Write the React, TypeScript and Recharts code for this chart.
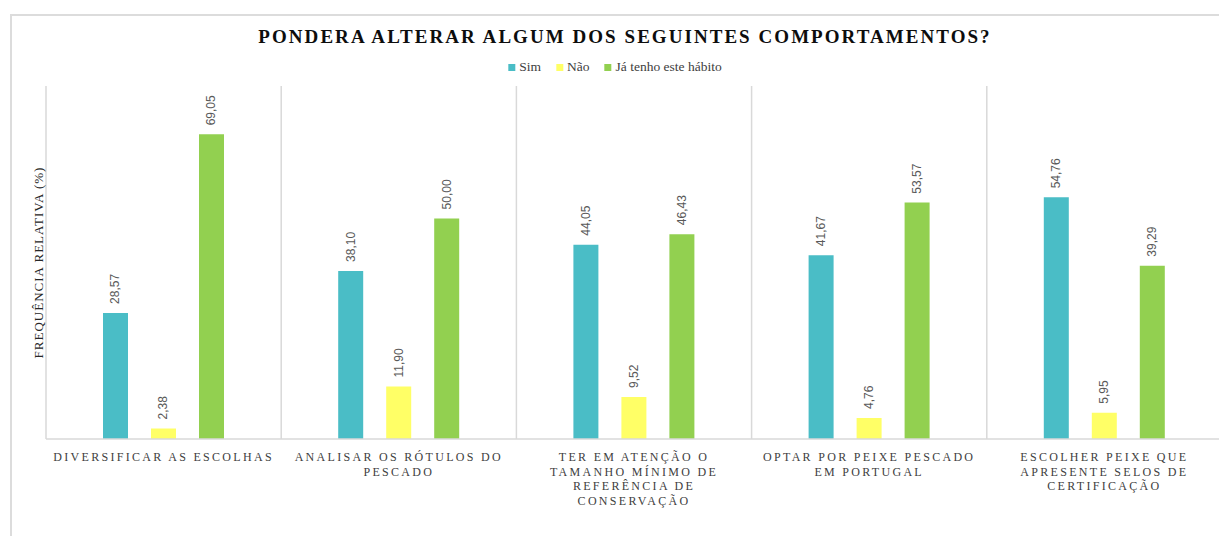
import React from "react";
import { BarChart, Bar, XAxis, YAxis, CartesianGrid, LabelList } from "recharts";

const categories = [
  "DIVERSIFICAR AS ESCOLHAS",
  "ANALISAR OS RÓTULOS DO PESCADO",
  "TER EM ATENÇÃO O TAMANHO MÍNIMO DE REFERÊNCIA DE CONSERVAÇÃO",
  "OPTAR POR PEIXE PESCADO EM PORTUGAL",
  "ESCOLHER PEIXE QUE APRESENTE SELOS DE CERTIFICAÇÃO",
];

const tickLines = [
  ["DIVERSIFICAR AS ESCOLHAS"],
  ["ANALISAR OS RÓTULOS DO", "PESCADO"],
  ["TER EM ATENÇÃO O", "TAMANHO MÍNIMO DE", "REFERÊNCIA DE", "CONSERVAÇÃO"],
  ["OPTAR POR PEIXE PESCADO", "EM PORTUGAL"],
  ["ESCOLHER PEIXE QUE", "APRESENTE SELOS DE", "CERTIFICAÇÃO"],
];

const sim = [28.57, 38.1, 44.05, 41.67, 54.76];
const nao = [2.38, 11.9, 9.52, 4.76, 5.95];
const jaTenho = [69.05, 50.0, 46.43, 53.57, 39.29];

const series = [
  { key: "sim", name: "Sim", color: "#4ABDC6" },
  { key: "nao", name: "Não", color: "#FFFF66" },
  { key: "ja", name: "Já tenho este hábito", color: "#92D050" },
];

const data = categories.map((c, i) => ({
  category: c,
  sim: sim[i],
  nao: nao[i],
  ja: jaTenho[i],
}));

const serif = "'Liberation Serif', 'Times New Roman', serif";
const sans = "'Liberation Sans', Arial, sans-serif";

const fmt = (v: number) => v.toFixed(2).replace(".", ",");

const BarValue = (props: any) => {
  const { x, y, width, value } = props;
  const cx = x + width / 2;
  const ty = y - 9;
  return (
    <text
      x={cx}
      y={ty}
      transform={`rotate(-90, ${cx}, ${ty})`}
      textAnchor="start"
      dominantBaseline="central"
      fontFamily={sans}
      fontSize={12}
      fill="#595959"
    >
      {fmt(value)}
    </text>
  );
};

const CategoryTick = (props: any) => {
  const { x, y, payload } = props;
  const lines = tickLines[payload.index] || [payload.value];
  return (
    <g>
      {lines.map((l, i) => (
        <text
          key={i}
          x={x}
          y={y + 22 + i * 14.7}
          textAnchor="middle"
          fontFamily={serif}
          fontSize={12}
          letterSpacing={2.3}
          fill="#404040"
        >
          {l}
        </text>
      ))}
    </g>
  );
};

const YTitle = (props: any) => {
  const { viewBox } = props;
  const cx = viewBox.x + viewBox.width - 8;
  const cy = viewBox.y + viewBox.height / 2;
  return (
    <text
      x={cx}
      y={cy}
      transform={`rotate(-90, ${cx}, ${cy})`}
      textAnchor="middle"
      dominantBaseline="central"
      fontFamily={serif}
      fontSize={13}
      letterSpacing={1}
      fill="#262626"
    >
      FREQUÊNCIA RELATIVA (%)
    </text>
  );
};

export default function App() {
  return (
    <div style={{ position: "relative", width: 1219, height: 528, overflow: "hidden", background: "#fff" }}>
      <div
        style={{
          position: "absolute",
          left: 2,
          top: 6,
          width: 1300,
          height: 600,
          border: "2px solid #dcdcdc",
        }}
      />
      <div
        style={{
          position: "absolute",
          left: 617,
          top: 19,
          transform: "translateX(-50%)",
          whiteSpace: "nowrap",
          fontFamily: serif,
          fontWeight: "bold",
          fontSize: 19,
          lineHeight: "19px",
          letterSpacing: 2.05,
          color: "#0d0d0d",
        }}
      >
        PONDERA ALTERAR ALGUM DOS SEGUINTES COMPORTAMENTOS?
      </div>
      <div
        style={{
          position: "absolute",
          left: 607,
          top: 52,
          transform: "translateX(-50%)",
          display: "flex",
          alignItems: "center",
          whiteSpace: "nowrap",
          fontFamily: serif,
          fontSize: 13.5,
          lineHeight: "14px",
          color: "#404040",
        }}
      >
        {series.map((s, i) => (
          <span key={s.key} style={{ display: "flex", alignItems: "center", marginLeft: i ? 15 : 0 }}>
            <span style={{ width: 7, height: 7, background: s.color, marginRight: 4, display: "inline-block" }} />
            {s.name}
          </span>
        ))}
      </div>
      <div style={{ position: "absolute", left: 0, top: 0 }}>
        <BarChart
          width={1219}
          height={528}
          data={data}
          margin={{ top: 78, right: 5, left: 0, bottom: 7 }}
          barSize={25}
          barGap={23}
        >
          <CartesianGrid
            horizontal={false}
            stroke="#d9d9d9"
            strokeWidth={1.5}
            verticalCoordinatesGenerator={({ offset }: any) =>
              [0, 1, 2, 3, 4, 5].map((i) => offset.left + (i * offset.width) / 5)
            }
          />
          <XAxis
            dataKey="category"
            height={90}
            tickSize={0}
            tickMargin={0}
            tickLine={false}
            axisLine={{ stroke: "#d9d9d9", strokeWidth: 1.5 }}
            tick={<CategoryTick />}
            interval={0}
          />
          <YAxis
            width={38}
            domain={[0, 80]}
            tick={false}
            tickLine={false}
            axisLine={false}
            label={<YTitle />}
          />
          {series.map((s) => (
            <Bar key={s.key} dataKey={s.key} name={s.name} fill={s.color} isAnimationActive={false}>
              <LabelList dataKey={s.key} content={<BarValue />} />
            </Bar>
          ))}
        </BarChart>
      </div>
    </div>
  );
}
